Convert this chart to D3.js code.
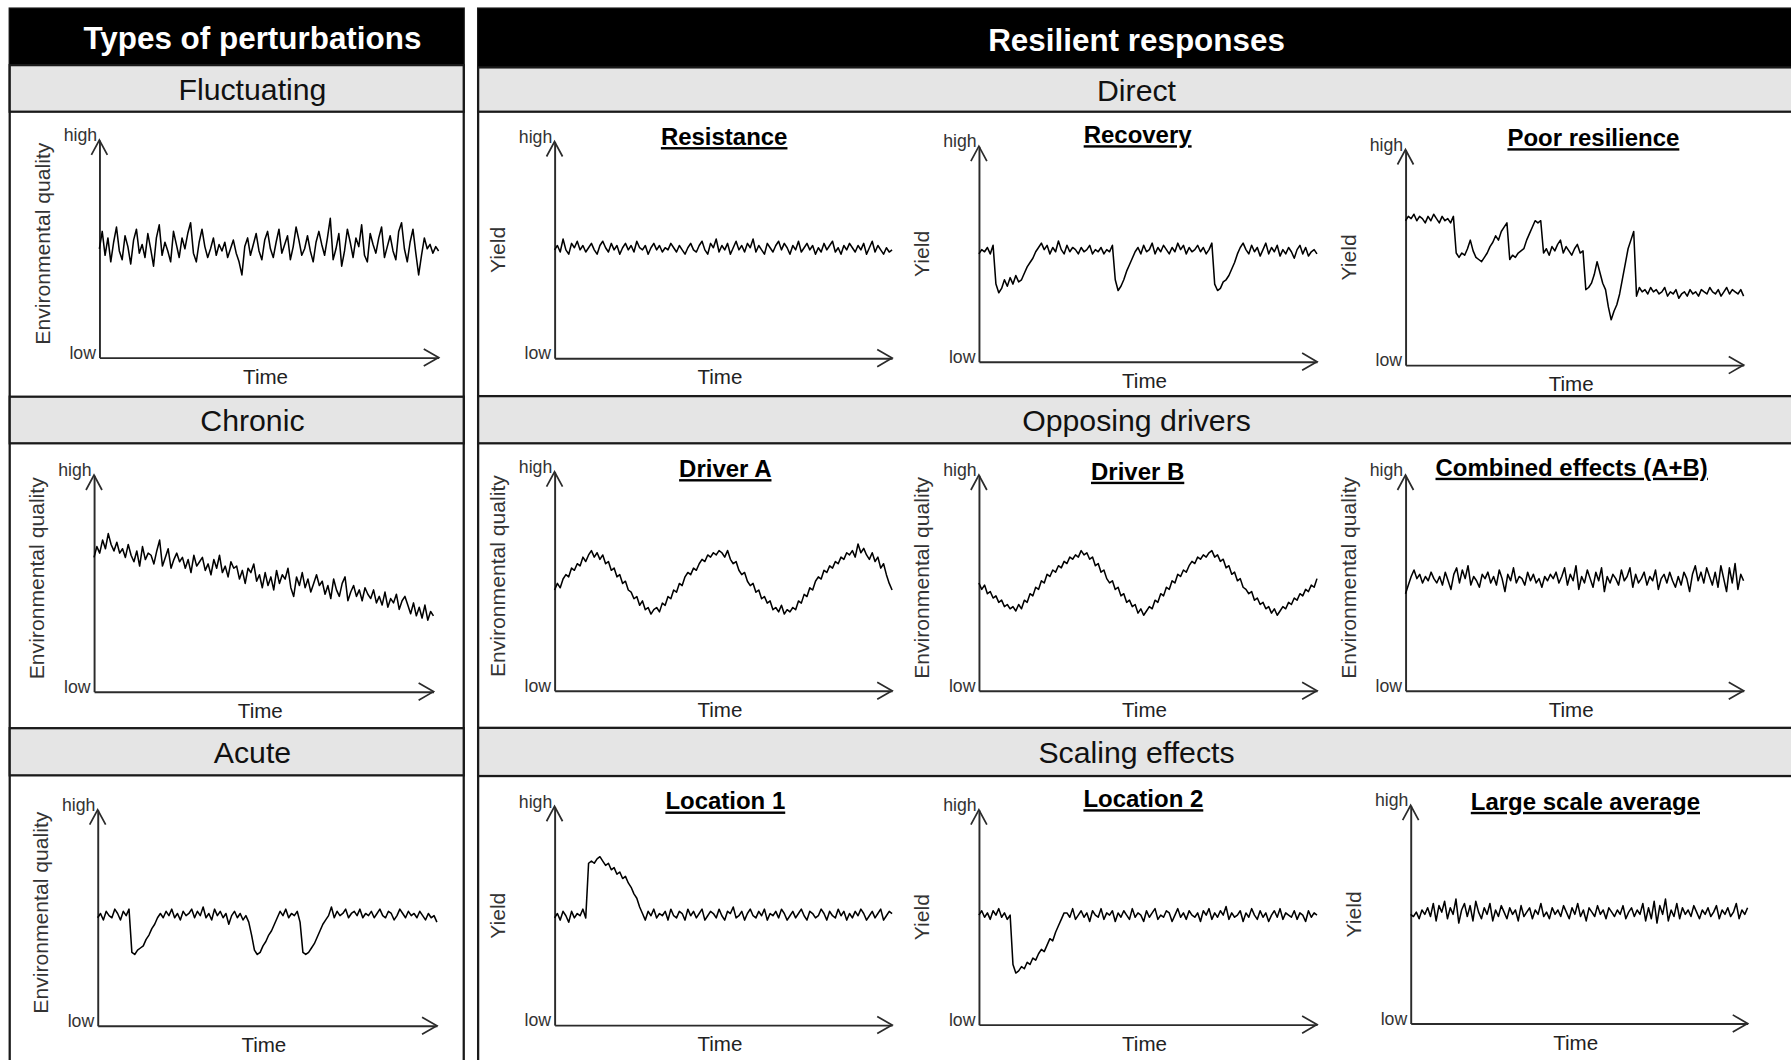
<!DOCTYPE html>
<html>
<head>
<meta charset="utf-8">
<script src="https://cdn.jsdelivr.net/npm/d3@7"></script>
<style>
  body { margin: 0; background: #fff; }
  svg { display: block; font-family: "Liberation Sans", Arial, sans-serif; }
</style>
</head>
<body>
<div id="wrapper"></div>
<script>
// Labels
const columnTitles = ["Types of perturbations", "Resilient responses"];
const perturbationTypes = ["Fluctuating", "Chronic", "Acute"];
const responseGroups = ["Direct", "Opposing drivers", "Scaling effects"];
const panelTitles = ["Resistance", "Recovery", "Poor resilience", "Driver A", "Driver B",
  "Combined effects (A+B)", "Location 1", "Location 2", "Large scale average"];
const axisEnds = ["low", "high"];

// Series, 0 = low (x axis), 100 = high (arrow tip)
const fluctuating = [50,58,47,55,44,53,60,49,45,56,51,43,54,59,48,52,46,57,50,42,55,61,47,53,49,44,58,52,46,55,50,57,62,48,44,53,59,51,46,50,55,47,52,49,53,46,50,54,48,44,38,51,55,47,52,57,49,45,54,58,50,46,53,59,48,52,56,45,51,60,54,47,50,56,49,44,53,58,52,47,55,64,45,50,57,42,49,59,53,46,55,51,61,47,44,57,52,48,55,60,46,51,56,49,45,58,62,50,44,53,59,48,38,47,55,50,52,48,51,49];
const chronic = [62,67,64,70,66,73,68,65,69,64, 66,62,68,63,60,65,58,67,61,64, 63,59,65,70,58,62,66,57,61,64, 60,62,57,61,55,63,58,60,62,56, 59,54,61,57,63,55,58,53,60,57, 58,52,56,50,57,55,59,51,54,48, 55,49,53,47,56,50,54,52,57,48, 44,53,49,55,48,52,46,50,54,49, 51,45,49,43,52,47,44,50,53,42, 46,49,44,47,42,48,45,43,47,41, 44,40,46,39,43,41,45,38,42,44, 40,36,41,35,39,34,40,33,37,35];
const acute = [50,52,49,53,51,50,54,52,49,53,51,54, 34,33,35,36,37,40,42,45,47,50, 52,50,53,51,54,50,52,49,53,51,52,54,50,53,51,55,50,52,49,54,51,53,50,52,47,51,53,50,52,49,51,48, 42,35,33,34,37,39,42,44,47,50, 53,51,54,50,52,51,53,48, 34,33,34,36,38,41,44,47,49,51, 55,50,53,51,52,54,50,52,53,51,54,50,52,51,53,50,52,54,51,50,53,52,49,51,54,52,50,53,51,52,50,53,51,49,52,50,51,48];
const resistance = [50,52,49,55,50,48,53,51,54,50,52,49,51,53,50,48,52,54,51,49,53,50,52,48,51,53,50,52,49,54,51,50,52,48,51,53,50,52,49,51,50,53,51,49,52,50,48,51,53,50,49,52,54,50,48,53,51,55,49,52,50,53,48,51,54,50,52,49,53,51,55,49,52,50,48,53,51,49,52,54,50,53,51,48,52,50,54,49,51,53,50,52,48,51,49,53,50,52,54,49,51,48,52,50,53,51,49,52,50,53,48,51,54,49,52,50,48,51,49,50];
const recovery = [50,52,51,53,50,54, 36,32,34,38,35,39,36,40,37,38,41,44,46,48,51,53,55, 52,54,50,53,51,56,52,50,54,51,53,52,50,53,51,52,54,50,52,51,53,50,52,51,54, 38,33,35,38,42,45,48,51,53, 50,54,51,52,55,50,53,51,54,52,50,53,51,55,52,54,50,53,51,52,54,51,53,50,52,55, 36,33,34,37,38,40,43,46,50,53,55, 52,50,54,51,53,49,52,55,50,53,51,54,49,52,50,53,51,48,52,54,50,53,49,51,52,50];
const poorResilience = [67,69,68,70,67,69,68,66,69,67,70,68,66,69,67,68,66,69, 52,50,52,51,54,58,53,50,49,48, 50,52,55,57,60,58,62,64,66, 49,51,50,52,53,54, 58,61,64,67,66,67, 52,54,51,55,53,56,58,52,55,53,51,54,56,52,53, 35,36,38,42,48,43,38,35,27,21, 25,28,33,40,47,54,58,62, 32, 36,34,35,33,36,34,35,33,34,36,32,34,33,35,31,33,34,32,35,33,34,32,35,34,33,36,34,33,35,32,34,36,33,35,34,33,35,32];
const driverA = [46,49,47,51,53,52,56,55,58,57,61,59,62, 64,61,63,60,62,58,59,55,56,52,53,49, 50,46,45,42,43,39,41,37,38,35,37, 38,36,40,39,43,42,46,45,49,48,52,54, 53,56,55,58,60,59,62,61,63,62,64, 63,61,64,60,58,59,55,53,54,50,48,49, 45,46,42,43,40,41,37,38,36,39,35,37,36, 38,37,41,40,44,43,47,46,50,52,51,55, 54,57,56,59,58,61,60,63,62,64,61,67, 63,65,62,60,63,59,61,56,58,53,49,46];
const driverB = [50,47,49,45,46,43,44,41,42,39,40,38,39, 37,40,38,42,41,45,44,48,47,51,50,54, 53,56,55,58,57,60,59,62,61,63,62,65, 63,64,61,62,58,59,55,56,52,50,51,47, 48,44,45,41,42,39,40,36,38,35,37, 39,38,42,41,45,44,48,47,51,50,54,53, 56,55,58,60,59,62,61,63,62,64,65, 62,63,60,61,57,58,54,55,51,52,48,47, 45,46,42,43,40,41,38,39,36,38,35,37, 39,38,41,40,43,42,45,44,47,46,49,48,52];
const combined = [45,49,53,56,52,54,50,53,51,55,52,50,53,49,55,51,47,54,57,50,56,52,58,49,53,51,48,54,52,55,50,53,49,56,52,46,54,51,57,50,53,52,49,55,51,54,50,52,48,53,51,54,52,55,50,53,57,49,54,51,58,47,53,50,56,52,48,55,51,57,46,53,50,54,52,49,56,51,53,57,48,54,50,52,55,49,53,51,56,47,52,54,50,55,51,48,53,49,55,52,46,54,58,51,55,50,57,53,49,55,48,58,52,46,57,50,59,47,54,51];
const location1 = [49,51,48,52,50,47,52,49,51,50,53,49, 74,75,74,76,77,75,73,74,71,72,69,70,67,68,65,63,60,58,54, 51,48,52,50,53,49,51,50,52,48,53,50,49,52,51,48,53,50,52,49,51,53,48,50,52,51,49,53,50,48,52,51,54,49,50,52,48,51,53,50,49,52,50,53,48,51,50,52,49,53,51,48,50,52,49,51,53,50,48,52,51,49,50,53,51,48,52,50,49,53,50,52,48,51,49,52,50,53,51,48,50,52,49,51,53,48,50,52,51];
const location2 = [51,53,50,52,49,53,51,54,50,52,49,51, 28,24,25,27,26,29,28,31,30,33,35,34,37,40,39,43,46,49,52, 52,50,54,49,51,53,50,52,48,53,51,50,54,49,52,51,53,48,52,50,53,51,49,54,50,52,51,48,53,50,52,54,49,51,50,53,52,48,51,54,50,52,49,53,51,50,52,48,53,51,54,49,52,50,53,51,55,49,52,50,51,53,48,52,50,54,51,49,53,50,52,48,51,53,50,54,49,52,51,50,53,49,52,51,48,53,50,52,51];
const largeScale = [50,49,51,48,52,50,53,49,55,47,54,51,56,48,53,50,57,46,52,55,49,54,47,56,51,48,53,50,55,47,52,49,54,51,48,53,50,52,47,54,49,51,53,48,52,50,55,49,51,48,53,50,52,49,54,51,48,53,50,55,49,52,47,53,51,49,54,50,52,48,53,51,49,52,50,54,48,51,53,49,52,50,55,47,53,48,56,46,54,50,57,47,52,49,55,48,53,50,52,49,54,51,48,52,50,53,49,51,54,48,52,50,53,49,51,55,48,52,50,53];

// Layout (in a 1568 x 928 frame, scaled up to the window)
const W = 1568, H = 928;
const svg = d3.select("#wrapper")
  .append("svg")
  .attr("width", 1791)
  .attr("height", 1060)
  .attr("viewBox", [0, 0, W, H]);

const columns = [
  { x0: 8.5, x1: 406, cx: 221, head: [7.5, 57], titleY: 43, bands: [[57, 97.8], [347.3, 388.1], [637.5, 678.8]], labels: perturbationTypes },
  { x0: 418.6, x1: 1572, cx: 995, head: [7.5, 59], titleY: 45, bands: [[59, 97.8], [346.8, 388.1], [637.2, 679.4]], labels: responseGroups }
];

columns.forEach((c, ci) => {
  const g = svg.append("g");
  g.append("rect")
    .attr("x", c.x0).attr("y", c.head[0])
    .attr("width", c.x1 - c.x0).attr("height", H + 10 - c.head[0])
    .attr("fill", "#fff").attr("stroke", "#1a1a1a").attr("stroke-width", 2);
  g.append("rect")
    .attr("x", c.x0).attr("y", c.head[0])
    .attr("width", c.x1 - c.x0).attr("height", c.head[1] - c.head[0])
    .attr("fill", "#000");
  g.append("text")
    .attr("x", c.cx).attr("y", c.titleY)
    .attr("text-anchor", "middle")
    .attr("fill", "#fff").attr("font-weight", "bold").attr("font-size", 27.5)
    .text(columnTitles[ci]);
  c.bands.forEach((b, bi) => {
    g.append("rect")
      .attr("x", c.x0).attr("y", b[0])
      .attr("width", c.x1 - c.x0).attr("height", b[1] - b[0])
      .attr("fill", "#e5e5e5").attr("stroke", "#1a1a1a").attr("stroke-width", 2);
    g.append("text")
      .attr("x", c.cx).attr("y", (b[0] + b[1]) / 2 + 10)
      .attr("text-anchor", "middle")
      .attr("fill", "#111").attr("font-size", 26.5)
      .text(c.labels[bi]);
  });
});

const EQ = "Environmental quality", YIELD = "Yield";
const panels = [
  { series: fluctuating, ylab: EQ, x0: 87, x1: 384, yTop: 122.6, yBot: 313 },
  { series: chronic, ylab: EQ, x0: 82.3, x1: 379.5, yTop: 416, yBot: 605.5 },
  { series: acute, ylab: EQ, x0: 85.5, x1: 382.5, yTop: 709, yBot: 898 },
  { series: resistance, ylab: YIELD, title: panelTitles[0], x0: 485.5, x1: 781, yTop: 124, yBot: 313.5, tx: 634, ty: 127 },
  { series: recovery, ylab: YIELD, title: panelTitles[1], x0: 857, x1: 1153, yTop: 128, yBot: 316.6, tx: 996, ty: 125.4 },
  { series: poorResilience, ylab: YIELD, title: panelTitles[2], x0: 1230.5, x1: 1526.5, yTop: 131, yBot: 319.6, tx: 1395, ty: 128 },
  { series: driverA, ylab: EQ, title: panelTitles[3], x0: 485.5, x1: 781, yTop: 413, yBot: 604.7, tx: 635, ty: 417.7 },
  { series: driverB, ylab: EQ, title: panelTitles[4], x0: 857, x1: 1153, yTop: 416, yBot: 604.7, tx: 996, ty: 420 },
  { series: combined, ylab: EQ, title: panelTitles[5], x0: 1230.5, x1: 1526.5, yTop: 416, yBot: 604.7, tx: 1376, ty: 416.5 },
  { series: location1, ylab: YIELD, title: panelTitles[6], x0: 485.5, x1: 781, yTop: 706, yBot: 897.4, tx: 635, ty: 708.7 },
  { series: location2, ylab: YIELD, title: panelTitles[7], x0: 857, x1: 1153, yTop: 709, yBot: 897, tx: 1001, ty: 706.7 },
  { series: largeScale, ylab: YIELD, title: panelTitles[8], x0: 1235, x1: 1530, yTop: 705, yBot: 896, tx: 1388, ty: 709 }
];

const axisColor = "#2b2b2b";

panels.forEach(p => {
  const g = svg.append("g");

  const x = d3.scaleLinear()
    .domain([0, p.series.length - 1])
    .range([p.x0, p.x1]);

  const y = d3.scaleLinear()
    .domain([0, 100])
    .range([p.yBot, p.yTop]);

  // assen zonder ticks, alleen de lijn
  const yAxis = g.append("g")
    .attr("transform", `translate(${p.x0},0)`)
    .call(d3.axisLeft(y).tickValues([]).tickSizeOuter(0));
  const xAxis = g.append("g")
    .attr("transform", `translate(0,${p.yBot})`)
    .call(d3.axisBottom(x).tickValues([]).tickSizeOuter(0));
  [yAxis, xAxis].forEach(a => a.select(".domain")
    .attr("stroke", axisColor).attr("stroke-width", 1.7));

  // pijlpunten
  const tipY = y(100), tipX = x.range()[1];
  g.append("path")
    .attr("d", `M${p.x0 - 7},${tipY + 13}L${p.x0},${tipY}L${p.x0 + 7},${tipY + 13}`)
    .attr("fill", "none").attr("stroke", axisColor).attr("stroke-width", 1.5);
  g.append("path")
    .attr("d", `M${tipX - 13},${p.yBot - 7.5}L${tipX},${p.yBot}L${tipX - 13},${p.yBot + 7.5}`)
    .attr("fill", "none").attr("stroke", axisColor).attr("stroke-width", 1.5);

  // de reeks
  g.append("path")
    .datum(p.series)
    .attr("d", d3.line().x((d, i) => x(i)).y(d => y(d)))
    .attr("fill", "none").attr("stroke", "#000").attr("stroke-width", 1.35)
    .attr("stroke-linejoin", "round");

  // labels
  g.append("text")
    .attr("x", p.x0 - 2).attr("y", y(100) + 1)
    .attr("text-anchor", "end").attr("font-size", 15.5).attr("fill", "#333")
    .text(axisEnds[1]);
  g.append("text")
    .attr("x", p.x0 - 3).attr("y", y(0) + 1)
    .attr("text-anchor", "end").attr("font-size", 15.5).attr("fill", "#333")
    .text(axisEnds[0]);
  g.append("text")
    .attr("x", (p.x0 + p.x1) / 2 - 3).attr("y", p.yBot + 23)
    .attr("text-anchor", "middle").attr("font-size", 18).attr("fill", "#222")
    .text("Time");
  const labelShift = p.ylab === EQ ? -4.5 : 0;
  g.append("text")
    .attr("transform", `translate(${p.x0 - 43.5},${(p.yTop + p.yBot) / 2 + labelShift}) rotate(-90)`)
    .attr("text-anchor", "middle").attr("font-size", 18.5).attr("fill", "#333")
    .text(p.ylab);

  if (p.title) {
    g.append("text")
      .attr("x", p.tx).attr("y", p.ty)
      .attr("text-anchor", "middle")
      .attr("font-size", 21).attr("font-weight", "bold").attr("fill", "#000")
      .style("text-decoration", "underline")
      .text(p.title);
  }
});
</script>
</body>
</html>
